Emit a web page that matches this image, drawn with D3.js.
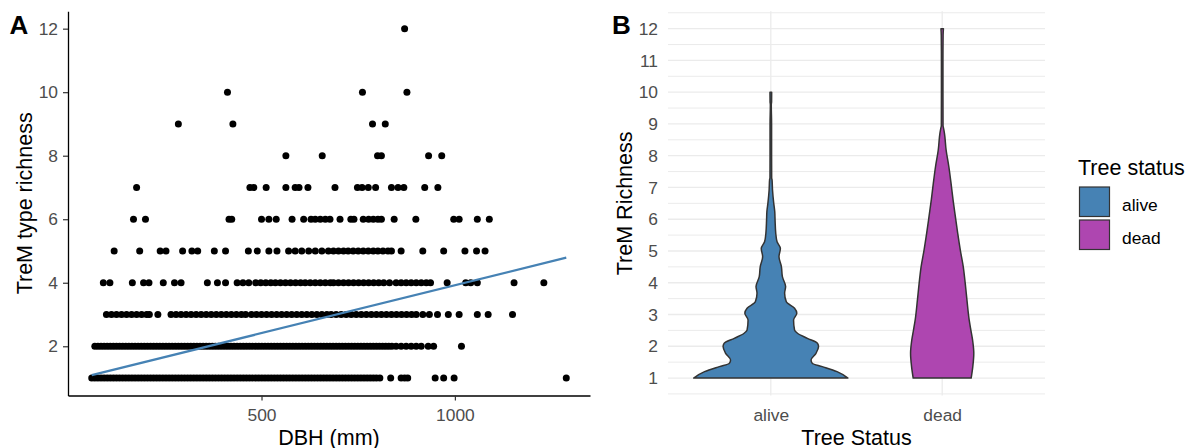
<!DOCTYPE html>
<html><head><meta charset="utf-8">
<script src="https://cdn.jsdelivr.net/npm/d3@7"></script>
<style>
body{margin:0;background:#fff}
text{font-family:"Liberation Sans",Arial,Helvetica,sans-serif}
</style>
</head><body>
<svg id="chart" width="1186" height="448"></svg>
<script>
// ---------- Panel A data: DBH (mm) per TreM type richness level ----------
const dbhR1 = [61,69,77,85,93,101,109,117,125,133,141,149,157,165,173,181,189,197,205,213,221,229,237,245,253,261,269,277,285,293,301,309,317,325,333,341,349,357,365,373,381,389,397,405,413,421,429,437,445,453,461,469,477,485,493,501,509,517,525,533,541,549,557,565,573,581,589,597,605,613,621,629,637,645,653,661,669,677,685,693,701,709,717,725,733,741,749,757,765,773,781,789,797,806,834,861,870,878,949,971,998,1288];
const dbhR2 = [69,77,85,93,101,109,117,125,133,141,149,157,165,173,181,189,197,205,213,221,229,237,245,253,261,269,277,285,293,301,309,317,325,333,341,349,357,365,373,381,389,397,405,413,421,429,437,445,453,461,469,477,485,493,501,509,517,525,533,541,549,557,565,573,581,589,597,605,613,621,629,637,645,653,661,669,677,685,693,701,709,717,725,733,741,749,757,765,773,781,789,797,805,813,821,829,837,848,861,874,887,900,913,931,945,1017];
const dbhR3 = [99,112,125,138,151,164,177,190,203,210,232,266,279,292,305,318,331,344,357,370,383,396,409,422,435,448,459,474,487,500,513,526,539,552,565,578,591,604,617,630,643,656,669,680,693,706,719,732,745,758,771,784,797,810,823,836,849,862,875,888,900,917,934,955,983,1011,1058,1086,1149];
const dbhR4 = [91,108,166,195,209,246,275,292,360,386,407,437,452,467,485,498,511,524,536,549,562,575,588,601,613,626,639,652,665,678,686,699,712,725,738,751,764,777,790,803,816,831,848,861,874,887,900,913,926,937,980,1028,1041,1058,1153,1230];
const dbhR5 = [119,185,238,253,296,320,335,378,407,466,489,519,540,570,587,604,622,639,656,673,686,699,712,724,737,750,763,776,789,801,814,827,836,861,917,971,1026,1056,1078];
const dbhR6 = [169,200,416,423,500,519,538,579,609,628,639,652,665,677,703,731,739,763,777,789,801,810,843,899,997,1011,1058,1089];
const dbhR7 = [177,470,480,512,563,587,597,620,690,748,760,776,795,836,853,868,922,956];
const dbhR8 = [563,657,800,810,932,966];
const dbhR9 = [285,426,787,820];
const dbhR10 = [412,761,876];
const dbhR11 = [];
const dbhR12 = [870];
const richnessLevels = [1,2,3,4,5,6,7,8,9,10,11,12];
const dbhByLevel = [dbhR1,dbhR2,dbhR3,dbhR4,dbhR5,dbhR6,dbhR7,dbhR8,dbhR9,dbhR10,dbhR11,dbhR12];

// linear fit (lm) end points
const fitDBH = [61, 1288];
const fitRichness = [1.09, 4.79];

const xTicksA = [500, 1000];
const yTicksA = [2, 4, 6, 8, 10, 12];

// ---------- Panel B data: violin density profiles ----------
const statusCategories = ["alive", "dead"];
const aliveRichness = [1.0,1.2,1.36,1.46,1.57,1.78,1.99,2.09,2.25,2.41,2.51,2.83,3.04,3.2,3.4,3.67,3.88,4.19,4.51,4.82,5.08,5.29,5.56,5.98,6.24,6.5,6.92,7.24,7.3,8.0,9.0,9.6,9.7,10.0];
const aliveDensity  = [1.0,0.859,0.667,0.538,0.522,0.586,0.619,0.606,0.474,0.346,0.308,0.295,0.337,0.308,0.201,0.179,0.192,0.150,0.137,0.106,0.124,0.081,0.064,0.055,0.051,0.038,0.022,0.016,0.011,0.010,0.010,0.006,0.010,0.011];
const deadRichness = [1.0,1.36,1.78,2.2,2.51,2.83,3.46,3.98,4.51,5.03,5.56,6.08,6.61,7.13,7.66,8.18,8.71,8.86,8.95,10.0,11.0,11.8,12.0];
const deadDensity  = [0.376,0.397,0.410,0.394,0.372,0.350,0.321,0.299,0.273,0.235,0.201,0.171,0.141,0.115,0.086,0.051,0.029,0.018,0.011,0.010,0.010,0.012,0.016];
const statusColors = ["#4682B4", "#AE46B0"];
const yTicksB = [1,2,3,4,5,6,7,8,9,10,11,12];

// ---------- Drawing ----------
const svg = d3.select("#chart");
const FS_TICK = 17.4, FS_TITLE = 21.5;
const tickColor = "#4D4D4D";

const rExt = d3.extent(richnessLevels);
const rPad = (rExt[1] - rExt[0]) * 0.05;
const yTop = 11.2, yBottom = 395.5;

// ===== Panel A =====
const allDbh = dbhByLevel.flat();
const dExt = d3.extent(allDbh);
const dPad = (dExt[1] - dExt[0]) * 0.05;
const xA = d3.scaleLinear().domain([dExt[0] - dPad, dExt[1] + dPad]).range([68, 590]);
const yA = d3.scaleLinear().domain([rExt[0] - rPad, rExt[1] + rPad]).range([yBottom, yTop]);

const gA = svg.append("g");
const pts = [];
dbhByLevel.forEach((arr, i) => arr.forEach(v => pts.push({x: v, y: richnessLevels[i]})));
gA.append("g").selectAll("circle").data(pts).join("circle")
  .attr("cx", d => xA(d.x)).attr("cy", d => yA(d.y)).attr("r", 3.5).attr("fill", "#000");

gA.append("path")
  .datum(fitDBH.map((v, i) => [v, fitRichness[i]]))
  .attr("d", d3.line().x(d => xA(d[0])).y(d => yA(d[1])))
  .attr("fill", "none").attr("stroke", "#4682B4").attr("stroke-width", 2.2);

const axA_y = gA.append("g").attr("transform", "translate(68,0)")
  .call(d3.axisLeft(yA).tickValues(yTicksA).tickFormat(d3.format("d")).tickSize(5).tickSizeOuter(0).tickPadding(5));
const axA_x = gA.append("g").attr("transform", `translate(0,${yBottom})`)
  .call(d3.axisBottom(xA).tickValues(xTicksA).tickFormat(d3.format("d")).tickSize(5).tickSizeOuter(0).tickPadding(8));
[axA_y, axA_x].forEach(ax => {
  ax.select(".domain").attr("stroke", "#000").attr("stroke-width", 1.3);
  ax.selectAll(".tick line").attr("stroke", "#333").attr("stroke-width", 1.2);
  ax.selectAll(".tick text").attr("fill", tickColor).style("font-size", FS_TICK + "px").attr("font-family", null);
});

gA.append("text").attr("x", 329).attr("y", 444.5).attr("text-anchor", "middle")
  .style("font-size", FS_TITLE + "px").text("DBH (mm)");
gA.append("text").attr("transform", `translate(31.5,${(yTop + yBottom) / 2}) rotate(-90)`)
  .attr("text-anchor", "middle").style("font-size", FS_TITLE + "px").text("TreM type richness");
gA.append("text").attr("x", 9.5).attr("y", 33.5).style("font-size", "26px").attr("font-weight", "bold").text("A");

// ===== Panel B =====
const xB = d3.scalePoint().domain(statusCategories).range([668, 1045]).padding(0.6);
const yB = d3.scaleLinear().domain([rExt[0] - rPad, rExt[1] + rPad]).range([yBottom, yTop]);
const gB = svg.append("g");

const minorB = d3.range(yTicksB.length + 1).map(i => yTicksB[0] - 0.5 + i);
gB.append("g").selectAll("line").data(minorB).join("line")
  .attr("x1", 668).attr("x2", 1045).attr("y1", d => yB(d)).attr("y2", d => yB(d))
  .attr("stroke", "#EBEBEB").attr("stroke-width", 1);
gB.append("g").selectAll("line").data(yTicksB).join("line")
  .attr("x1", 668).attr("x2", 1045).attr("y1", d => yB(d)).attr("y2", d => yB(d))
  .attr("stroke", "#EBEBEB").attr("stroke-width", 1.3);
gB.append("g").selectAll("line").data(statusCategories).join("line")
  .attr("x1", d => xB(d)).attr("x2", d => xB(d)).attr("y1", yTop).attr("y2", yBottom)
  .attr("stroke", "#EBEBEB").attr("stroke-width", 1.3);

const allDens = aliveDensity.concat(deadDensity);
const wB = d3.scaleLinear().domain([0, d3.max(allDens)]).range([0, xB.step() * 0.45]);
const violins = [
  {cat: "alive", r: aliveRichness, d: aliveDensity, color: statusColors[0]},
  {cat: "dead", r: deadRichness, d: deadDensity, color: statusColors[1]}
];
violins.forEach(v => {
  const cx = xB(v.cat);
  const data = v.r.map((r, i) => ({r: r, d: v.d[i]}));
  const area = d3.area().curve(d3.curveMonotoneY)
    .y(d => yB(d.r)).x0(d => cx - wB(d.d)).x1(d => cx + wB(d.d));
  gB.append("path").attr("d", area(data)).attr("fill", v.color)
    .attr("stroke", "#333333").attr("stroke-width", 1.5).attr("stroke-linejoin", "round");
});

const axB_y = gB.append("g").attr("transform", "translate(668,0)")
  .call(d3.axisLeft(yB).tickValues(yTicksB).tickSize(0).tickPadding(10));
const axB_x = gB.append("g").attr("transform", `translate(0,${yBottom})`)
  .call(d3.axisBottom(xB).tickSize(0).tickPadding(13));
[axB_y, axB_x].forEach(ax => {
  ax.select(".domain").remove();
  ax.selectAll(".tick line").remove();
  ax.selectAll(".tick text").attr("fill", tickColor).style("font-size", FS_TICK + "px").attr("font-family", null);
});

gB.append("text").attr("x", 856.5).attr("y", 444.5).attr("text-anchor", "middle")
  .style("font-size", FS_TITLE + "px").text("Tree Status");
gB.append("text").attr("transform", `translate(631.5,${(yTop + yBottom) / 2}) rotate(-90)`)
  .attr("text-anchor", "middle").style("font-size", FS_TITLE + "px").text("TreM Richness");
gB.append("text").attr("x", 612).attr("y", 33.5).style("font-size", "26px").attr("font-weight", "bold").text("B");

// legend
const lg = svg.append("g").attr("transform", "translate(1078,0)");
lg.append("text").attr("x", 0).attr("y", 175).style("font-size", FS_TITLE + "px").text("Tree status");
statusCategories.forEach((c, i) => {
  lg.append("rect").attr("x", 1.5).attr("y", 187 + i * 33).attr("width", 30).attr("height", 29.5)
    .attr("fill", statusColors[i]).attr("stroke", "#333").attr("stroke-width", 1.2);
  lg.append("text").attr("x", 44).attr("y", 208 + i * 33).attr("dy", "0.2em")
    .style("font-size", FS_TICK + "px").attr("fill", "#000").text(c);
});
</script>
</body></html>
